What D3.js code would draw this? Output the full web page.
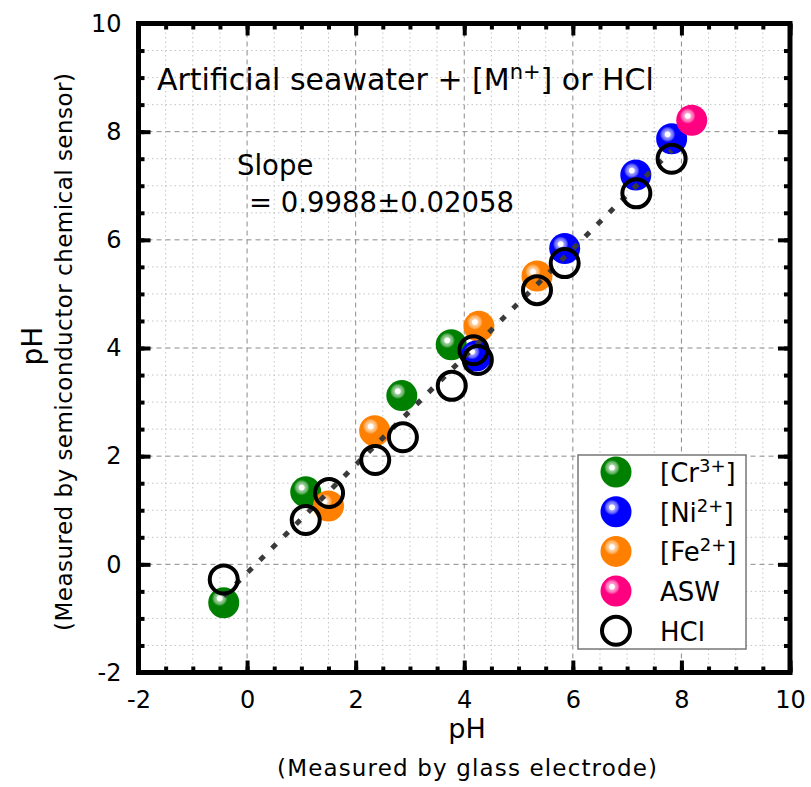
<!DOCTYPE html>
<html>
<head>
<meta charset="utf-8">
<script src="https://cdn.jsdelivr.net/npm/d3@7"></script>
<style>
  body { margin: 0; background: #fff; }
  svg { font-family: "DejaVu Sans", Verdana, sans-serif; }
</style>
</head>
<body>
<svg id="chart" width="811" height="787"></svg>
<script>
// values
const crX = [-0.43, 1.08, 2.85, 3.76];
const crY = [-0.71, 1.34, 3.12, 4.06];
const niX = [4.22, 5.85, 7.16, 7.82];
const niY = [3.85, 5.84, 7.20, 7.87];
const feX = [1.50, 2.35, 4.27, 5.34];
const feY = [1.08, 2.47, 4.40, 5.33];
const aswX = [8.19];
const aswY = [8.21];
const hclX = [-0.43, 1.08, 1.51, 2.36, 2.87, 3.77, 4.17, 4.25, 5.34, 5.85, 7.17, 7.82];
const hclY = [-0.28, 0.82, 1.32, 1.93, 2.35, 3.30, 3.96, 3.78, 5.07, 5.57, 6.86, 7.50];
const fitSlope = 0.9988;
const fitIntercept = -0.16;
const fitRange = [-0.43, 7.82];
const majorTicks = [-2, 0, 2, 4, 6, 8, 10];
const minorTicks = d3.range(-2, 10.01, 0.5);

const svg = d3.select('#chart');
const x = d3.scaleLinear().domain([-2, 10]).range([138.5, 790]);
const y = d3.scaleLinear().domain([-2, 10]).range([672.5, 23.5]);
const [x0, x1] = x.range();
const [y0, y1] = y.range();

const defs = svg.append('defs');
function ballGradient(id, color) {
  const c = d3.color(color);
  const mix = t => d3.interpolateRgb(c, '#fff')(t);
  const g = defs.append('radialGradient').attr('id', id)
    .attr('cx', 0.37).attr('cy', 0.36).attr('fx', 0.37).attr('fy', 0.36).attr('r', 0.55);
  g.append('stop').attr('offset', 0).attr('stop-color', '#fff');
  g.append('stop').attr('offset', 0.14).attr('stop-color', '#fff');
  g.append('stop').attr('offset', 0.2).attr('stop-color', mix(0.62));
  g.append('stop').attr('offset', 0.34).attr('stop-color', mix(0.4));
  g.append('stop').attr('offset', 0.46).attr('stop-color', c.toString());
  g.append('stop').attr('offset', 1).attr('stop-color', c.toString());
}
ballGradient('g-cr', '#008000');
ballGradient('g-ni', '#0000ff');
ballGradient('g-fe', '#ff8000');
ballGradient('g-asw', '#ff0080');

// grid
const grid = svg.append('g');
const minorOnly = minorTicks.filter(v => v % 2 !== 0);
grid.selectAll('.vmin').data(minorOnly).join('line')
  .attr('x1', d => x(d)).attr('x2', d => x(d)).attr('y1', y1).attr('y2', y0)
  .attr('stroke', '#c4c4c4').attr('stroke-width', 1).attr('stroke-dasharray', '1.5,3');
grid.selectAll('.hmin').data(minorOnly).join('line')
  .attr('y1', d => y(d)).attr('y2', d => y(d)).attr('x1', x0).attr('x2', x1)
  .attr('stroke', '#c4c4c4').attr('stroke-width', 1).attr('stroke-dasharray', '1.5,3');
const majorInner = majorTicks.slice(1, -1);
grid.selectAll('.vmaj').data(majorInner).join('line')
  .attr('x1', d => x(d)).attr('x2', d => x(d)).attr('y1', y1).attr('y2', y0)
  .attr('stroke', '#8a8a8a').attr('stroke-width', 1).attr('stroke-dasharray', '5,4');
grid.selectAll('.hmaj').data(majorInner).join('line')
  .attr('y1', d => y(d)).attr('y2', d => y(d)).attr('x1', x0).attr('x2', x1)
  .attr('stroke', '#8a8a8a').attr('stroke-width', 1).attr('stroke-dasharray', '5,4');

// annotations
const title = svg.append('text').attr('x', 157).attr('y', 90).attr('font-size', 30);
title.append('tspan').text('Artificial seawater + [M');
title.append('tspan').attr('font-size', 21).attr('dy', -11).text('n+');
title.append('tspan').attr('dy', 11).text('] or HCl');
svg.append('text').attr('x', 237).attr('y', 175).attr('font-size', 27.5).text('Slope');
svg.append('text').attr('x', 249).attr('y', 212).attr('font-size', 27.5)
  .attr('textLength', 265).text('= 0.9988±0.02058');

// legend
const legendItems = [
  { id: 'g-cr', label: 'Cr', sup: '3+' },
  { id: 'g-ni', label: 'Ni', sup: '2+' },
  { id: 'g-fe', label: 'Fe', sup: '2+' },
  { id: 'g-asw', label: 'ASW' },
  { id: null, label: 'HCl' }
];
const lg = svg.append('g');
lg.append('rect').attr('x', 578).attr('y', 455).attr('width', 168).attr('height', 194)
  .attr('fill', '#fff').attr('stroke', '#777').attr('stroke-width', 1.5);
legendItems.forEach((it, i) => {
  const cy = 472 + i * 39.7;
  if (it.id) {
    lg.append('circle').attr('cx', 616).attr('cy', cy).attr('r', 15.5).attr('fill', `url(#${it.id})`);
  } else {
    lg.append('circle').attr('cx', 616).attr('cy', cy).attr('r', 14).attr('fill', 'none')
      .attr('stroke', '#000').attr('stroke-width', 4);
  }
  const t = lg.append('text').attr('x', 660).attr('y', cy + 10).attr('font-size', 26);
  if (it.sup) {
    t.append('tspan').text('[' + it.label);
    t.append('tspan').attr('font-size', 18).attr('dy', -10).text(it.sup);
    t.append('tspan').attr('dy', 10).text(']');
  } else {
    t.text(it.label);
  }
});

// data
const pts = svg.append('g');
function balls(xs, ys, id) {
  pts.append('g').selectAll('circle').data(xs.map((v, i) => [v, ys[i]])).join('circle')
    .attr('cx', d => x(d[0])).attr('cy', d => y(d[1])).attr('r', 15.5)
    .attr('fill', `url(#${id})`);
}
balls(crX, crY, 'g-cr');
balls(feX, feY, 'g-fe');
balls(niX, niY, 'g-ni');
balls(aswX, aswY, 'g-asw');

pts.append('line')
  .attr('x1', x(fitRange[0])).attr('y1', y(fitSlope * fitRange[0] + fitIntercept))
  .attr('x2', x(fitRange[1])).attr('y2', y(fitSlope * fitRange[1] + fitIntercept))
  .attr('stroke', '#3a3a3a').attr('stroke-width', 5).attr('stroke-dasharray', '6,11');

pts.append('g').selectAll('circle').data(hclX.map((v, i) => [v, hclY[i]])).join('circle')
  .attr('cx', d => x(d[0])).attr('cy', d => y(d[1])).attr('r', 14)
  .attr('fill', 'none').attr('stroke', '#000').attr('stroke-width', 4);

// axes: inward ticks on all sides
const fmt = d => String(d);
function axis(gen, transform, size, values, labels, pad) {
  const g = svg.append('g').attr('transform', transform)
    .call(gen.tickValues(values).tickSize(size).tickPadding(pad)
      .tickFormat(labels ? fmt : () => ''));
  g.select('.domain').remove();
  g.selectAll('line').attr('stroke', '#000').attr('stroke-width', 4);
  g.selectAll('text').attr('font-size', 24).attr('font-family', '"DejaVu Sans", Verdana, sans-serif').attr('fill', '#000');
  return g;
}
axis(d3.axisBottom(x), `translate(0,${y0})`, -6, minorTicks, false, 0);
axis(d3.axisBottom(x), `translate(0,${y0})`, -12, majorTicks, true, 18);
axis(d3.axisTop(x), `translate(0,${y1})`, -6, minorTicks, false, 0);
axis(d3.axisTop(x), `translate(0,${y1})`, -12, majorTicks, false, 0);
axis(d3.axisLeft(y), `translate(${x0},0)`, -6, minorTicks, false, 0);
axis(d3.axisLeft(y), `translate(${x0},0)`, -12, majorTicks, true, 17);
axis(d3.axisRight(y), `translate(${x1},0)`, -6, minorTicks, false, 0);
axis(d3.axisRight(y), `translate(${x1},0)`, -12, majorTicks, false, 0);

svg.append('rect').attr('x', x0).attr('y', y1).attr('width', x1 - x0).attr('height', y0 - y1)
  .attr('fill', 'none').attr('stroke', '#000').attr('stroke-width', 5);

// axis titles
svg.append('text').attr('x', 467).attr('y', 738).attr('text-anchor', 'middle').attr('font-size', 27).text('pH');
svg.append('text').attr('x', 467).attr('y', 776).attr('text-anchor', 'middle').attr('font-size', 23)
  .attr('textLength', 380).text('(Measured by glass electrode)');
svg.append('text').attr('transform', 'translate(42,346) rotate(-90)').attr('text-anchor', 'middle')
  .attr('font-size', 28).text('pH');
svg.append('text').attr('transform', 'translate(72,352) rotate(-90)').attr('text-anchor', 'middle')
  .attr('font-size', 23).attr('textLength', 558).text('(Measured by semiconductor chemical sensor)');
</script>
</body>
</html>
